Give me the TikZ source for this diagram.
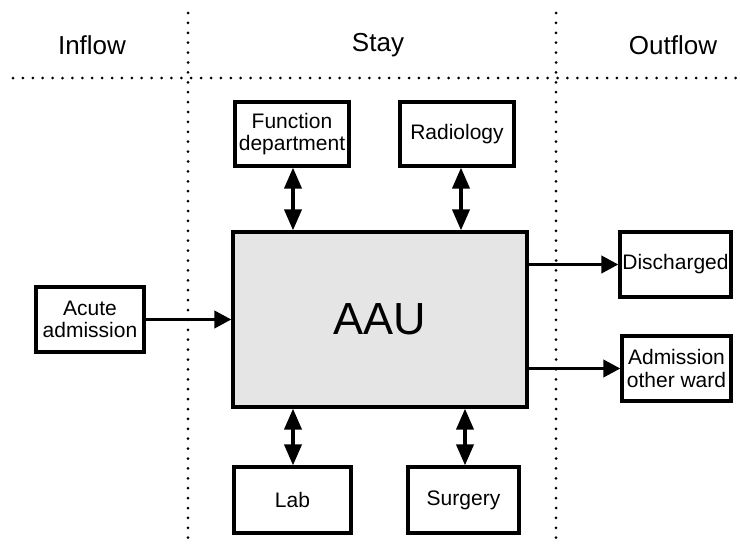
\documentclass[tikz,border=0pt]{standalone}
\usepackage{fontspec}
\setmainfont{Liberation Sans}
\usetikzlibrary{arrows.meta}

\tikzset{
  unitbox/.style={draw, line width=3.2pt, fill=white, inner sep=0pt,
    font=\fontsize{21}{22.5}\selectfont, align=center},
  header/.style={font=\fontsize{26}{28}\selectfont},
  sepline/.style={line width=3pt, line cap=round, dash pattern=on 0pt off 9.9pt},
  flow/.style={line width=3.8pt, -{Triangle[length=17pt,width=17pt]}},
  link/.style={line width=3.8pt, {Triangle[length=21pt,width=17pt]}-{Triangle[length=21pt,width=17pt]}}
}

\begin{document}
\begin{tikzpicture}[x=1pt, y=-1pt]
  \useasboundingbox (0,0) rectangle (740,546);

  % section separators
  \draw[sepline] (13,78) -- (740,78);
  \draw[sepline] (188,13) -- (188,546);
  \draw[sepline] (556,13) -- (556,546);

  % section headings
  \node[header] (hin)   at (92,45)  {Inflow};
  \node[header] (hstay) at (378,45) {Stay};
  \node[header] (hout)  at (673,45) {Outflow};

  % central unit
  \node[draw, line width=3.2pt, fill=black!10, minimum width=294pt, minimum height=175pt,
        font=\fontsize{45}{48}\selectfont] (aau) at (380,319.5) {AAU};

  % supporting departments
  \node[unitbox, minimum width=114pt, minimum height=64pt] (func) at (292,134) {Function\\department};
  \node[unitbox, minimum width=114pt, minimum height=64pt] (rad)  at (457,134) {Radiology};
  \node[unitbox, minimum width=117pt, minimum height=66pt] (lab)  at (292.5,500) {Lab};
  \node[unitbox, minimum width=111pt, minimum height=66pt] (surg) at (463.5,500) {Surgery};

  % inflow and outflow
  \node[unitbox, minimum width=108pt, minimum height=65pt] (acute) at (90,319.5) {Acute\\admission};
  \node[unitbox, minimum width=111pt, minimum height=65pt] (dis)   at (675.5,264.5) {Discharged};
  \node[unitbox, minimum width=109pt, minimum height=65pt] (other) at (676.5,368.5) {Admission\\other ward};

  % two-way links with the departments
  \draw[link] (func.south -| 293,0) -- (aau.north -| 293,0);
  \draw[link] (rad.south -| 461,0)  -- (aau.north -| 461,0);
  \draw[link] (aau.south -| 293,0)  -- (lab.north -| 293,0);
  \draw[link] (aau.south -| 465,0)  -- (surg.north -| 465,0);

  % patient flow
  \draw[flow] (acute.east) -- (aau.west |- acute.east);
  \draw[flow] (aau.east |- dis.west) -- (dis.west);
  \draw[flow] (aau.east |- other.west) -- (other.west);
\end{tikzpicture}
\end{document}
